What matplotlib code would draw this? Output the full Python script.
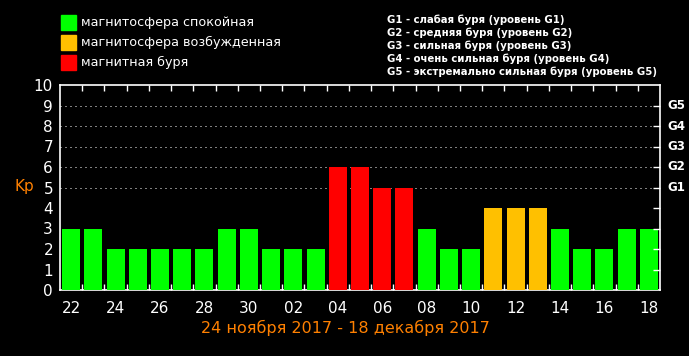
import matplotlib.pyplot as plt
from matplotlib.patches import Rectangle

# данные Kp по дням
days = ['22', '23', '24', '25', '26', '27', '28', '29', '30', '01', '02', '03', '04', '05',
        '06', '07', '08', '09', '10', '11', '12', '13', '14', '15', '16', '17', '18']
kp = [3, 3, 2, 2, 2, 2, 2, 3, 3, 2, 2, 2, 6, 6, 5, 5, 3, 2, 2, 4, 4, 4, 3, 2, 2, 3, 3]

legend_labels = ['магнитосфера спокойная', 'магнитосфера возбужденная', 'магнитная буря']
g_labels = ['G1 - слабая буря (уровень G1)',
            'G2 - средняя буря (уровень G2)',
            'G3 - сильная буря (уровень G3)',
            'G4 - очень сильная буря (уровень G4)',
            'G5 - экстремально сильная буря (уровень G5)']
g_levels = [5, 6, 7, 8, 9]
date_range = '24 ноября 2017 - 18 декабря 2017'

GREEN = '#00ff00'
ORANGE = '#ffc000'
RED = '#ff0000'
TXT_ORANGE = '#ff8000'


def bar_color(v):
    if v >= 5:
        return RED
    if v == 4:
        return ORANGE
    return GREEN


fig = plt.figure(figsize=(6.89, 3.56), dpi=100, facecolor='black')
ax = fig.add_axes([60 / 689, 66 / 356, 600 / 689, 205 / 356], facecolor='black')

x = list(range(len(kp)))
ax.bar(x, kp, width=0.81, color=[bar_color(v) for v in kp], zorder=3)

# пунктирные линии уровней
for lv in g_levels:
    ax.axhline(lv, color='white', lw=0.72, linestyle=(0, (1, 4)), zorder=1)

ax.set_xlim(-0.5, len(kp) - 0.5)
ax.set_ylim(0, 10)

for s in ax.spines.values():
    s.set_color('white')
    s.set_linewidth(1.2)

# подписи по оси X через день
ax.set_xticks(x[::2])
ax.set_xticklabels(days[::2], color='white', fontsize=11)
ax.set_xticks([i + 0.5 for i in range(len(kp) - 1)], minor=True)
ax.tick_params(axis='x', which='major', length=0, pad=8)
ax.tick_params(axis='x', which='minor', direction='in', length=4, color='white',
               top=True, bottom=True, width=1)

ax.set_yticks(range(11))
ax.set_yticklabels([str(i) for i in range(11)], color='white', fontsize=11)
ax.tick_params(axis='y', which='major', length=0, pad=5)
ax2 = ax.twinx()
ax2.set_ylim(0, 10)
ax2.set_yticks(range(1, 10))
ax2.set_yticklabels([])
ax2.tick_params(axis='y', direction='in', length=5, color='white', width=1)
for s in ax2.spines.values():
    s.set_visible(False)

for i, lv in enumerate(g_levels):
    fig.text(667 / 689, 1 - (290 - lv * 20.5) / 356, 'G%d' % (i + 1), color='white',
             fontsize=8.5, fontweight='bold', va='center', ha='left')

fig.text(14 / 689, 1 - 187 / 356, 'Kp', color=TXT_ORANGE, fontsize=11, va='center')

fig.text(345 / 689, 1 - 328 / 356, date_range, color=TXT_ORANGE, fontsize=11.5,
         ha='center', va='center')

# легенда
for i, (lab, col) in enumerate(zip(legend_labels, [GREEN, ORANGE, RED])):
    y0 = 15 + i * 20
    fig.patches.append(Rectangle((61 / 689, 1 - (y0 + 15) / 356), 15 / 689, 15 / 356,
                                 transform=fig.transFigure, color=col))
    fig.text(81 / 689, 1 - (y0 + 7.5) / 356, lab, color='white', fontsize=9.2, va='center')

for i, lab in enumerate(g_labels):
    fig.text(387 / 689, 1 - (20 + i * 13) / 356, lab, color='white', fontsize=7.3,
             fontweight='bold', va='center')

fig.savefig('out.png', dpi=100, facecolor='black')
